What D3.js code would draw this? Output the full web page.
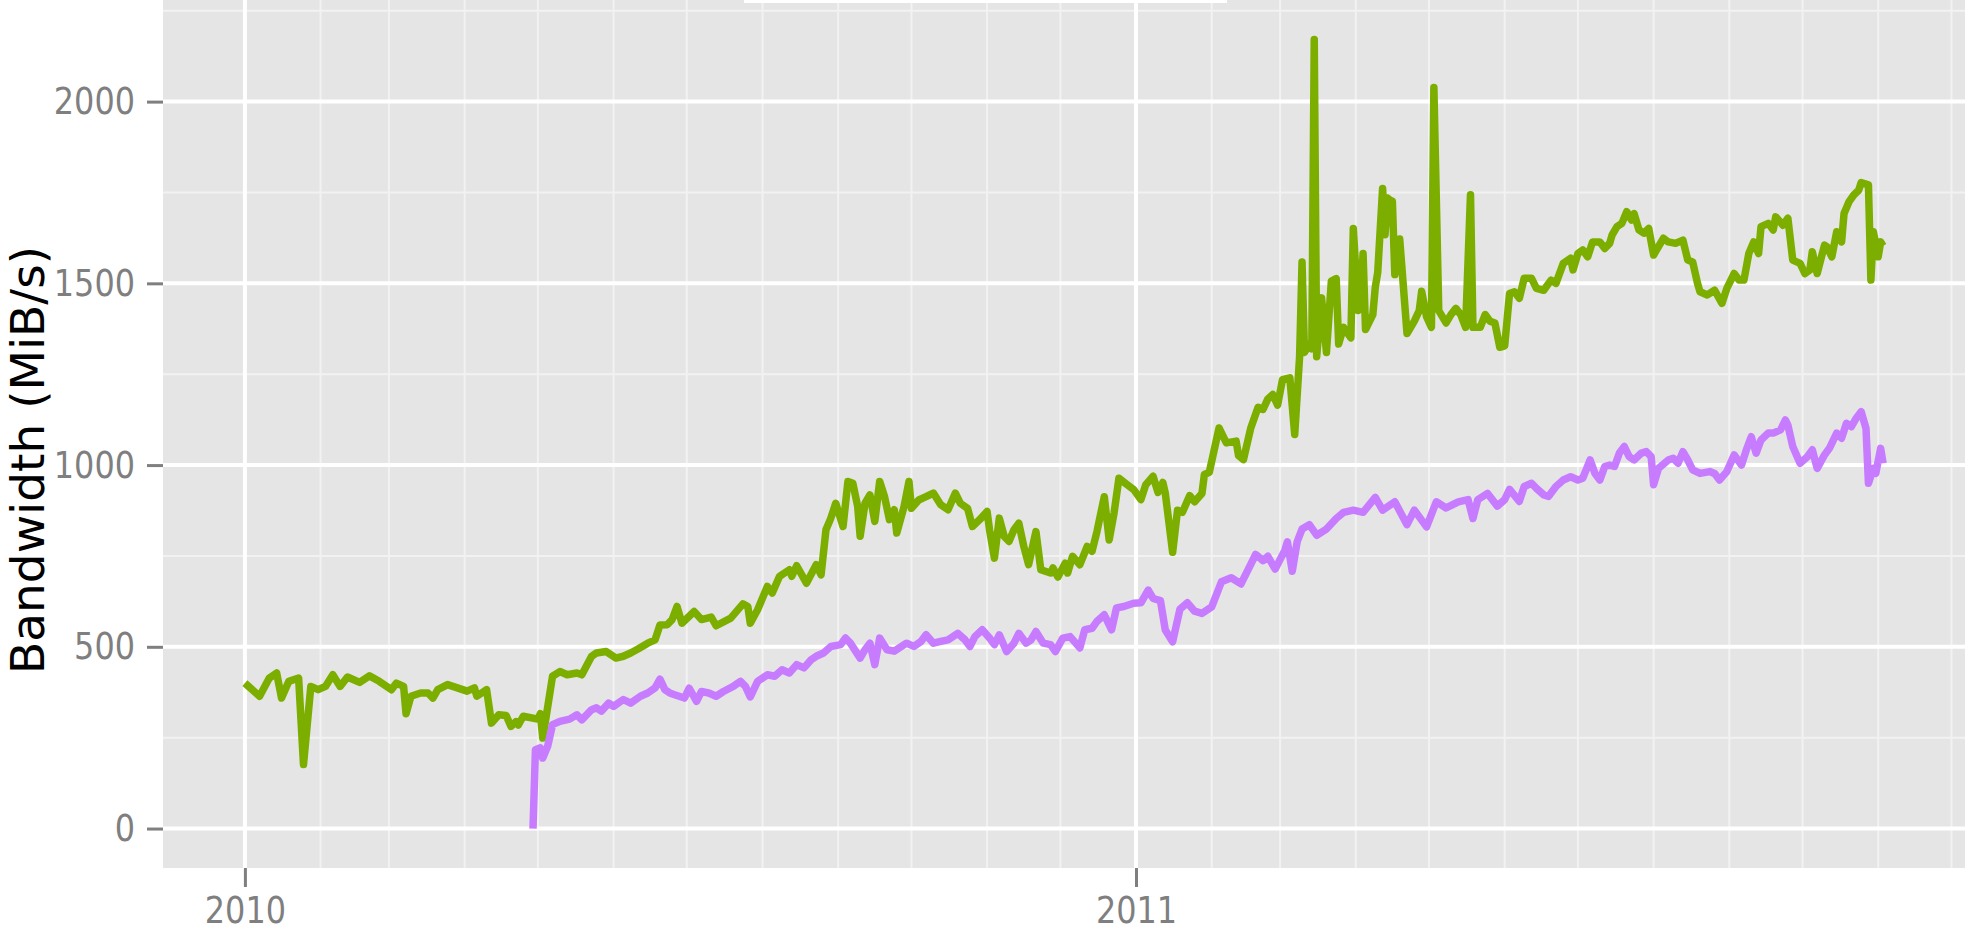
<!DOCTYPE html>
<html>
<head>
<meta charset="utf-8">
<script src="https://cdn.jsdelivr.net/npm/d3@7"></script>
<style>
  body { margin: 0; background: #fff; }
</style>
</head>
<body>
<svg id="bandwidth"></svg>
<script>
// day offset from 2010-01-01, MiB/s
var startDate = new Date(Date.UTC(2010, 0, 1));
var yearTicks = [new Date(Date.UTC(2010, 0, 1)), new Date(Date.UTC(2011, 0, 1))];
var bandwidthTicks = [0, 500, 1000, 1500, 2000];
var bandwidthMinor = [250, 750, 1250, 1750, 2250];
var yLabel = 'Bandwidth (MiB/s)';

var greenSeries = [
  [0,400],[6,364],[10,414],[13,428],[15,359],[18,405],[22,414],[24,176],[27,391],[30,382],
  [33,391],[36,423],[39,391],[42,417],[47,402],[51,420],[55,405],[60,382],[62,400],[65,391],
  [66,316],[68,364],[72,373],[75,373],[77,359],[79,382],[83,396],[87,387],[91,378],[94,387],
  [95,364],[99,382],[101,290],[104,313],[107,311],[109,281],[111,294],[112,285],[114,309],[120,301],
  [121,316],[122,249],[126,419],[129,432],[132,423],[136,428],[138,423],[142,474],[144,483],[148,487],
  [152,469],[155,474],[158,483],[161,494],[165,510],[168,519],[170,560],[173,561],[175,575],[177,611],
  [179,565],[184,597],[187,575],[191,582],[193,558],[199,579],[204,618],[206,611],[207,565],[210,602],
  [214,666],[216,648],[219,694],[223,712],[224,694],[226,723],[230,675],[234,726],[236,698],[238,822],
  [240,854],[242,895],[245,831],[247,955],[249,950],[251,886],[252,804],[254,895],[256,918],[258,845],
  [260,955],[262,913],[264,850],[266,877],[267,813],[270,886],[272,955],[273,881],[276,904],[279,913],
  [282,923],[285,891],[288,877],[291,923],[293,895],[296,881],[298,831],[301,850],[304,872],[305,822],
  [307,744],[309,854],[311,804],[313,790],[315,822],[317,840],[319,777],[321,726],[324,817],[326,712],
  [330,703],[331,717],[333,692],[336,730],[337,703],[339,749],[342,726],[345,776],[347,763],[349,817],
  [352,913],[354,794],[356,868],[358,964],[361,948],[364,933],[367,905],[369,946],[372,969],[374,925],
  [376,952],[377,922],[380,760],[382,876],[384,870],[387,916],[389,899],[392,922],[393,974],[395,980],
  [399,1102],[402,1061],[406,1066],[407,1026],[409,1015],[412,1102],[415,1159],[417,1153],[419,1182],[421,1194],
  [423,1165],[425,1235],[428,1240],[430,1084],[432,1298],[433,1559],[434,1310],[436,1333],[437,1320],[438,2171],
  [439,1298],[441,1460],[443,1310],[445,1506],[447,1513],[448,1333],[450,1379],[453,1350],[454,1651],[456,1425],
  [457,1437],[458,1582],[459,1373],[462,1414],[463,1489],[464,1530],[466,1761],[467,1634],[468,1735],[469,1729],
  [470,1726],[471,1524],[473,1622],[476,1362],[479,1396],[481,1425],[482,1478],[484,1408],[486,1379],[487,2039],
  [489,1425],[492,1391],[494,1414],[496,1431],[498,1414],[500,1379],[502,1744],[503,1379],[506,1379],[508,1414],
  [510,1396],[512,1391],[514,1324],[516,1328],[518,1472],[520,1477],[522,1459],[524,1514],[527,1514],[529,1486],
  [532,1481],[535,1509],[537,1500],[540,1555],[543,1569],[544,1537],[546,1582],[548,1592],[550,1573],[552,1614],
  [555,1614],[557,1596],[559,1610],[560,1633],[562,1656],[564,1665],[566,1697],[568,1674],[569,1692],[571,1647],
  [573,1638],[575,1651],[577,1578],[581,1624],[583,1614],[586,1610],[589,1619],[591,1564],[593,1559],[595,1500],
  [596,1477],[599,1468],[602,1481],[605,1445],[607,1486],[610,1527],[612,1509],[614,1509],[616,1582],[618,1614],
  [620,1582],[621,1656],[624,1665],[626,1647],[627,1683],[630,1660],[632,1679],[634,1564],[637,1555],[639,1527],
  [641,1537],[642,1587],[644,1527],[647,1605],[648,1601],[650,1573],[652,1642],[654,1614],[655,1692],[657,1724],
  [659,1743],[661,1756],[662,1777],[665,1771],[666,1509],[667,1642],[669,1573],[670,1614],[671,1603]
];

var purpleSeries = [
  [118,0],[119,217],[121,222],[122,194],[124,226],[126,286],[129,295],[133,301],[136,313],[138,299],
  [142,327],[144,332],[146,323],[149,345],[151,336],[155,355],[158,345],[162,364],[165,373],[168,387],
  [170,411],[172,382],[174,373],[176,368],[180,359],[182,386],[185,350],[187,377],[190,373],[193,364],
  [196,377],[200,391],[203,405],[205,391],[207,362],[210,405],[214,423],[217,419],[220,437],[223,428],
  [226,451],[229,442],[232,465],[234,474],[237,483],[240,501],[244,506],[246,524],[248,510],[252,469],
  [254,492],[256,510],[258,451],[260,524],[263,492],[266,488],[268,497],[271,510],[274,501],[277,515],
  [279,533],[282,510],[285,515],[288,519],[290,528],[292,537],[295,519],[297,501],[299,528],[302,547],
  [305,524],[307,506],[309,533],[312,487],[315,510],[317,537],[320,510],[322,519],[324,542],[327,510],
  [330,506],[332,487],[335,524],[338,528],[342,497],[344,547],[347,551],[349,570],[352,588],[355,547],
  [357,607],[360,611],[364,620],[367,621],[370,656],[372,633],[375,627],[377,546],[380,514],[383,604],
  [386,621],[389,598],[392,592],[396,610],[400,679],[404,690],[408,673],[414,754],[417,737],[419,749],
  [422,714],[426,766],[427,789],[429,708],[431,789],[433,824],[436,836],[439,807],[443,824],[447,853],
  [450,870],[454,876],[458,870],[463,911],[466,876],[471,899],[476,836],[479,876],[484,830],[488,899],
  [492,882],[497,899],[501,905],[503,853],[505,905],[509,922],[513,887],[516,905],[518,933],[522,900],
  [524,941],[527,950],[529,936],[532,918],[534,914],[537,941],[540,959],[543,968],[546,959],[548,964],
  [551,1014],[553,977],[555,959],[557,996],[559,1000],[561,996],[563,1033],[565,1051],[567,1023],[569,1014],
  [572,1033],[574,1037],[576,1023],[577,946],[579,991],[583,1014],[585,1019],[587,1005],[589,1037],[591,1014],
  [593,987],[596,977],[600,982],[602,977],[604,959],[607,982],[610,1028],[613,1000],[615,1042],[617,1078],
  [619,1033],[621,1069],[624,1088],[626,1088],[629,1097],[631,1124],[632,1110],[634,1051],[637,1005],[640,1023],
  [642,1042],[644,991],[647,1028],[649,1046],[652,1088],[654,1074],[656,1115],[658,1106],[660,1129],[662,1147],
  [664,1101],[665,950],[667,991],[668,977],[670,1046],[671,1005]
];

var seriesColors = ['#7CAE00', '#C77CFF'];

function dayToDate(day) {
   return new Date(startDate.getTime() + day * 864e5);
}

function drawBandwidth(svgname) {

   var width = 1968,
       height = 937;

   var panel = { left: 163, right: 1965, top: 0, bottom: 868 };

   var series = [greenSeries, purpleSeries].map(function(s) {
      return s.map(function(p) { return { date: dayToDate(p[0]), value: p[1] }; });
   });

   var all = series[0].concat(series[1]);

   // ggplot style 5% expansion on both axes
   var dayExt = d3.extent(all, function(d) { return d.date.getTime(); });
   var padT = (dayExt[1] - dayExt[0]) * 0.05;
   var x = d3.scaleUtc()
       .domain([new Date(dayExt[0] - padT), new Date(dayExt[1] + padT)])
       .range([panel.left, panel.right]);

   var valExt = d3.extent(all, function(d) { return d.value; });
   var padV = (valExt[1] - valExt[0]) * 0.05;
   var y = d3.scaleLinear()
       .domain([valExt[0] - padV, valExt[1] + padV])
       .range([panel.bottom, panel.top]);

   var svg = d3.select('#' + svgname)
       .attr('width', width)
       .attr('height', height)
       .style('font-family', '"DejaVu Sans", sans-serif');

   svg.append('rect')
      .attr('width', width).attr('height', height).attr('fill', '#fff');

   svg.append('defs').append('clipPath').attr('id', 'panelClip')
      .append('rect')
      .attr('x', panel.left).attr('y', panel.top)
      .attr('width', panel.right - panel.left)
      .attr('height', panel.bottom - panel.top);

   svg.append('rect')
      .attr('x', panel.left).attr('y', panel.top)
      .attr('width', panel.right - panel.left)
      .attr('height', panel.bottom - panel.top)
      .attr('fill', '#E5E5E5');

   var grid = svg.append('g').attr('clip-path', 'url(#panelClip)');

   var monthMinor = d3.utcMonth.range(startDate, x.domain()[1])
       .filter(function(d) { return d.getUTCMonth() !== 0; });

   grid.selectAll('.vminor').data(monthMinor).enter().append('line')
       .attr('x1', function(d) { return x(d); }).attr('x2', function(d) { return x(d); })
       .attr('y1', panel.top).attr('y2', panel.bottom)
       .attr('stroke', '#F2F2F2').attr('stroke-width', 2);

   grid.selectAll('.hminor').data(bandwidthMinor).enter().append('line')
       .attr('x1', panel.left).attr('x2', panel.right)
       .attr('y1', function(d) { return y(d); }).attr('y2', function(d) { return y(d); })
       .attr('stroke', '#F2F2F2').attr('stroke-width', 2);

   grid.selectAll('.vmajor').data(yearTicks).enter().append('line')
       .attr('x1', function(d) { return x(d); }).attr('x2', function(d) { return x(d); })
       .attr('y1', panel.top).attr('y2', panel.bottom)
       .attr('stroke', '#fff').attr('stroke-width', 4);

   grid.selectAll('.hmajor').data(bandwidthTicks).enter().append('line')
       .attr('x1', panel.left).attr('x2', panel.right)
       .attr('y1', function(d) { return y(d); }).attr('y2', function(d) { return y(d); })
       .attr('stroke', '#fff').attr('stroke-width', 4);

   var line = d3.line()
       .x(function(d) { return x(d.date); })
       .y(function(d) { return y(d.value); });

   grid.selectAll('.series').data(series).enter().append('path')
       .attr('d', line)
       .attr('fill', 'none')
       .attr('stroke', function(d, i) { return seriesColors[i]; })
       .attr('stroke-width', 7.5)
       .attr('stroke-linejoin', 'round');

   // remnant of the legend box sitting above the panel
   svg.append('rect')
      .attr('x', 744).attr('y', 0).attr('width', 483).attr('height', 3)
      .attr('fill', '#fff');

   var yAxis = svg.append('g')
       .attr('transform', 'translate(' + panel.left + ',0)')
       .call(d3.axisLeft(y).tickValues(bandwidthTicks).tickSize(16).tickPadding(12)
             .tickFormat(d3.format('d')));

   var xAxis = svg.append('g')
       .attr('transform', 'translate(0,' + panel.bottom + ')')
       .call(d3.axisBottom(x).tickValues(yearTicks).tickSize(19).tickPadding(9)
             .tickFormat(d3.utcFormat('%Y')));

   [yAxis, xAxis].forEach(function(ax) {
      ax.select('.domain').remove();
      ax.selectAll('.tick line').attr('stroke', '#7F7F7F').attr('stroke-width', 3);
      ax.selectAll('.tick text')
        .attr('fill', '#7F7F7F')
        .style('font-family', '"DejaVu Sans", sans-serif')
        .style('font-size', '38px')
        .each(function() {
           // the original tick labels are set in a narrow face
           var w = this.getComputedTextLength();
           d3.select(this)
             .attr('textLength', w * 0.84)
             .attr('lengthAdjust', 'spacingAndGlyphs');
        });
   });

   svg.append('text')
      .attr('transform', 'translate(44,460) rotate(-90)')
      .attr('text-anchor', 'middle')
      .style('font-size', '47px')
      .attr('fill', '#000')
      .text(yLabel);
}

drawBandwidth('bandwidth');
</script>
</body>
</html>
